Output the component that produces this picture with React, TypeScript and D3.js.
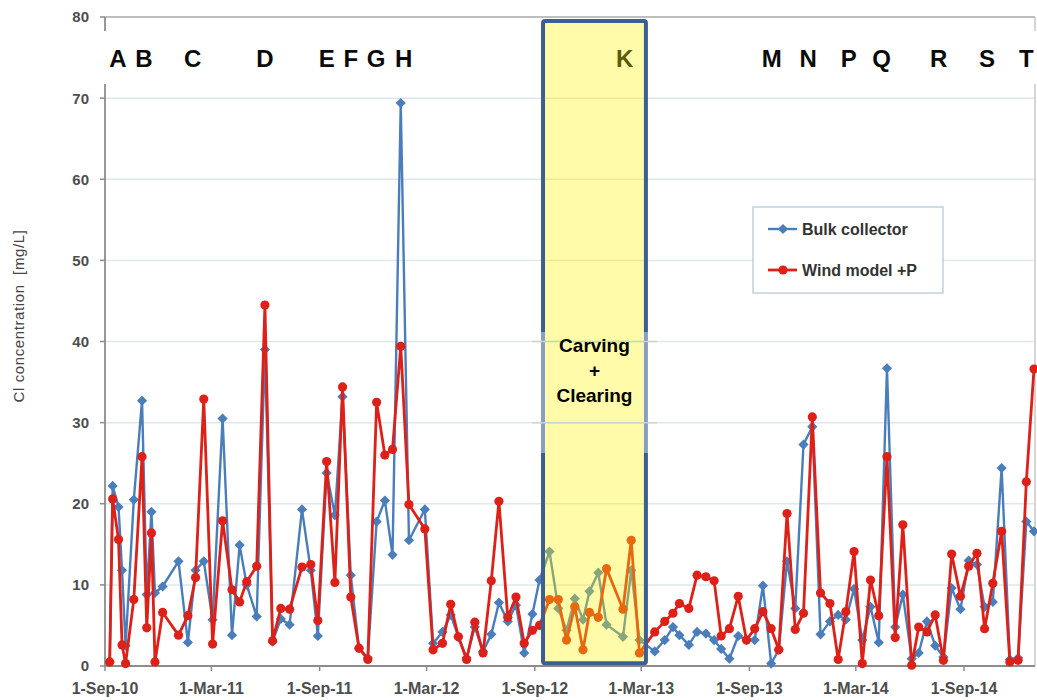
import React from "react";
import * as d3 from "d3";

const sampleDates = [
  "2010-09-09","2010-09-14","2010-09-24","2010-09-30","2010-10-06","2010-10-20","2010-11-03","2010-11-11","2010-11-19","2010-11-25","2010-12-08",
  "2011-01-04","2011-01-20","2011-02-02","2011-02-16","2011-03-03","2011-03-20","2011-04-05","2011-04-18","2011-04-30","2011-05-17","2011-05-31","2011-06-13","2011-06-27","2011-07-12","2011-08-02","2011-08-17","2011-08-29","2011-09-13","2011-09-27","2011-10-10","2011-10-24","2011-11-07","2011-11-22","2011-12-07","2011-12-21",
  "2012-01-03","2012-01-17","2012-01-31","2012-02-27","2012-03-12","2012-03-28","2012-04-11","2012-04-24","2012-05-08","2012-05-22","2012-06-05","2012-06-19","2012-07-02","2012-07-17","2012-07-31","2012-08-14","2012-08-28","2012-09-09","2012-09-26","2012-10-11","2012-10-25","2012-11-08","2012-11-22","2012-12-03","2012-12-18",
  "2013-01-01","2013-01-29","2013-02-12","2013-02-26","2013-03-24","2013-04-10","2013-04-24","2013-05-05","2013-05-21","2013-06-04","2013-06-19","2013-07-03","2013-07-15","2013-07-29","2013-08-13","2013-08-27","2013-09-10","2013-09-24","2013-10-08","2013-10-21","2013-11-04","2013-11-18","2013-12-02","2013-12-17","2013-12-31",
  "2014-01-16","2014-01-30","2014-02-12","2014-02-26","2014-03-12","2014-03-26","2014-04-09","2014-04-23","2014-05-07","2014-05-20","2014-06-04","2014-06-16","2014-06-30","2014-07-14","2014-07-28","2014-08-11","2014-08-26","2014-09-09","2014-09-23","2014-10-06","2014-10-20","2014-11-04","2014-11-18","2014-12-02","2014-12-16","2014-12-29",
];

const bulkCollector = [
  0.5, 22.2, 19.6, 11.8, 2.5, 20.5, 32.7, 8.8, 19.0, 9.0, 9.8,
  12.9, 2.9, 11.8, 12.9, 5.7, 30.5, 3.8, 14.9, 10.0, 6.1, 39.0, 3.0, 5.8, 5.1, 19.3, 11.8, 3.7, 23.8, 18.6, 33.2, 11.2, 2.2, 1.0, 17.8, 20.4,
  13.7, 69.4, 15.5, 19.3, 2.8, 4.2, 6.3, 3.6, 1.0, 4.8, 1.8, 3.9, 7.8, 5.5, 7.5, 1.6, 6.4, 10.6, 14.1, 7.1, 4.4, 8.3, 5.7, 9.2, 11.5,
  5.1, 3.6, 11.8, 3.2, 1.8, 3.2, 4.8, 3.8, 2.6, 4.2, 4.0, 3.2, 2.1, 0.9, 3.7, 3.2, 3.2, 9.9, 0.3, 2.0, 12.9, 7.1, 27.3, 29.5, 3.9,
  5.5, 6.3, 5.7, 9.5, 3.2, 7.3, 2.9, 36.7, 4.8, 8.8, 0.9, 1.6, 5.5, 2.5, 1.1, 9.6, 7.0, 13.0, 12.5, 7.3, 7.9, 24.4, 0.8, 1.0, 17.8, 16.6,
];

const windModel = [
  0.5, 20.6, 15.6, 2.6, 0.3, 8.2, 25.8, 4.7, 16.4, 0.5, 6.6,
  3.8, 6.2, 10.9, 32.9, 2.7, 17.9, 9.4, 7.9, 10.4, 12.3, 44.5, 3.1, 7.1, 7.0, 12.2, 12.5, 5.6, 25.2, 10.3, 34.4, 8.5, 2.2, 0.8, 32.5, 26.0,
  26.7, 39.4, 19.9, 16.9, 2.0, 2.8, 7.6, 3.6, 0.8, 5.4, 1.6, 10.5, 20.3, 6.0, 8.5, 2.8, 4.4, 5.0, 8.2, 8.2, 3.2, 7.3, 2.0, 6.6, 6.0,
  12.0, 7.0, 15.5, 1.6, 4.2, 5.5, 6.5, 7.7, 7.1, 11.2, 11.0, 10.5, 3.7, 4.6, 8.6, 3.2, 4.6, 6.7, 4.6, 2.0, 18.8, 4.5, 6.5, 30.7, 9.0,
  7.7, 0.8, 6.7, 14.1, 0.3, 10.6, 6.2, 25.8, 3.5, 17.4, 0.1, 4.8, 4.2, 6.3, 0.7, 13.8, 8.6, 12.3, 13.9, 4.6, 10.2, 16.6, 0.5, 0.7, 22.7, 36.6,
];

const yTicks = [0, 10, 20, 30, 40, 50, 60, 70, 80];
const xTickDates = ["2010-09-01","2011-03-01","2011-09-01","2012-03-01","2012-09-01","2013-03-01","2013-09-01","2014-03-01","2014-09-01"];

const eventLetters = ["A","B","C","D","E","F","G","H","K","M","N","P","Q","R","S","T"];
const eventDates = ["2010-09-23","2010-11-06","2011-01-28","2011-05-31","2011-09-13","2011-10-24","2011-12-06","2012-01-22","2013-02-01","2013-10-09","2013-12-10","2014-02-17","2014-04-14","2014-07-20","2014-10-10","2014-12-16"];

const periodStart = "2012-09-15";
const periodEnd = "2013-03-09";
const periodLabel = ["Carving", "+", "Clearing"];

const seriesNames = ["Bulk collector", "Wind model +P"];

const parse = d3.timeParse("%Y-%m-%d");
const fmt = d3.timeFormat("%-d-%b-%y");

export default function App() {
  const W = 1037, H = 700;
  const left = 105, right = 1035, top = 17, bottom = 666;
  const x = d3.scaleTime().domain([parse("2010-09-01")!, parse("2014-09-01")!]).range([105, 964]);
  const y = d3.scaleLinear().domain([0, 80]).range([bottom, top]);

  const blueData = sampleDates.map((d, i) => ({ t: parse(d)!, v: bulkCollector[i] }));
  const redData = sampleDates.map((d, i) => ({ t: parse(d)!, v: windModel[i] }));
  const line = d3.line<{ t: Date; v: number }>().x(d => x(d.t)).y(d => y(d.v));
  const diamond = d3.symbol(d3.symbolSquare, 52)();
  const blue = "#4a7ebb";
  const red = "#dd2018";
  const font = "Arial, 'Liberation Sans', sans-serif";

  const px0 = x(parse(periodStart)!);
  const px1 = x(parse(periodEnd)!);
  const pyTop = y(79.5);
  const pyBot = y(0.35);

  return (
    <svg width={W} height={H} style={{ position: "absolute", left: 0, top: 0, background: "#fff" }} fontFamily={font}>
      <rect x={0} y={0} width={W} height={H} fill="#fff" />
      {/* gridlines */}
      {yTicks.filter(t => t > 0 && t < 80).map(t => (
        <line key={t} x1={left} x2={right} y1={y(t)} y2={y(t)} stroke="#dde7ec" strokeWidth={1.5} />
      ))}
      {/* frame */}
      <line x1={left} x2={right} y1={top} y2={top} stroke="#a8a8a8" strokeWidth={1.5} />
      <line x1={right} x2={right} y1={top} y2={bottom} stroke="#c8c8c8" strokeWidth={1.5} />
      <line x1={left} x2={left} y1={top} y2={bottom} stroke="#8c8c8c" strokeWidth={1.8} />
      <line x1={left} x2={right} y1={bottom} y2={bottom} stroke="#8c8c8c" strokeWidth={1.8} />
      {/* y ticks */}
      {yTicks.map(t => (
        <g key={t}>
          <line x1={left - 5} x2={left} y1={y(t)} y2={y(t)} stroke="#8c8c8c" strokeWidth={1.5} />
          <text x={89} y={y(t)} dy="0.36em" textAnchor="end" fontSize={15} fontWeight="bold" fill="#4d4d4d">{t}</text>
        </g>
      ))}
      {/* x ticks */}
      {xTickDates.map(d => {
        const xx = x(parse(d)!);
        return (
          <g key={d}>
            <line x1={xx} x2={xx} y1={bottom} y2={bottom + 5} stroke="#8c8c8c" strokeWidth={1.5} />
            <text x={xx} y={694} textAnchor="middle" fontSize={16} fontWeight="bold" fill="#4d4d4d">{fmt(parse(d)!)}</text>
          </g>
        );
      })}
      {/* y axis title */}
      <text transform="translate(24,316) rotate(-90)" textAnchor="middle" fontSize={15} letterSpacing={0.6} fill="#444" style={{ whiteSpace: "pre" }}>Cl concentration  [mg/L]</text>

      {/* series */}
      <path d={line(blueData)!} fill="none" stroke={blue} strokeWidth={2.4} strokeLinejoin="round" />
      {blueData.map((d, i) => (
        <path key={i} d={diamond} transform={`translate(${x(d.t)},${y(d.v)}) rotate(45)`} fill={blue} />
      ))}
      <path d={line(redData)!} fill="none" stroke={red} strokeWidth={2.8} strokeLinejoin="round" />
      {redData.map((d, i) => (
        <circle key={i} cx={x(d.t)} cy={y(d.v)} r={4.6} fill={red} />
      ))}

      {/* letter band */}
      <rect x={95} y={31} width={W - 95} height={53} fill="#fff" />
      {eventLetters.map((l, i) => (
        <text key={l} x={x(parse(eventDates[i])!)} y={67} textAnchor="middle" fontSize={24} fontWeight="bold" fill="#0a0a0a">{l}</text>
      ))}

      {/* legend */}
      <rect x={753} y={207} width={190} height={86} fill="#fff" stroke="#b4c4d6" strokeWidth={1.2} />
      <line x1={768} x2={797} y1={229} y2={229} stroke={blue} strokeWidth={2.4} />
      <path d={diamond} transform="translate(783,229) rotate(45)" fill={blue} />
      <text x={802} y={235} fontSize={16} fontWeight="bold" fill="#333">{seriesNames[0]}</text>
      <line x1={768} x2={797} y1={270} y2={270} stroke={red} strokeWidth={2.8} />
      <circle cx={783} cy={270} r={4.6} fill={red} />
      <text x={802} y={276} fontSize={16} fontWeight="bold" fill="#333">{seriesNames[1]}</text>

      {/* highlighted period */}
      <rect x={px0} y={pyTop} width={px1 - px0} height={pyBot - pyTop} fill="#fff200" fillOpacity={0.34} />
      <rect x={px0} y={pyTop} width={px1 - px0} height={pyBot - pyTop} fill="none" stroke="#3d5e94" strokeWidth={4} rx={2} />
      <rect x={px0 - 11} y={332} width={14} height={121} fill="#ffffff" fillOpacity={0.4} />
      <rect x={px1 - 3} y={332} width={14} height={121} fill="#ffffff" fillOpacity={0.4} />
      <line x1={px0 - 11} x2={px1 + 11} y1={y(40)} y2={y(40)} stroke="#c6d6c8" strokeWidth={1.5} />
      <line x1={px0 - 11} x2={px1 + 11} y1={y(30)} y2={y(30)} stroke="#c6d6c8" strokeWidth={1.5} />
      {periodLabel.map((s, i) => (
        <text key={i} x={(px0 + px1) / 2} y={352 + i * 25} textAnchor="middle" fontSize={19} fontWeight="bold" fill="#000">{s}</text>
      ))}
    </svg>
  );
}
